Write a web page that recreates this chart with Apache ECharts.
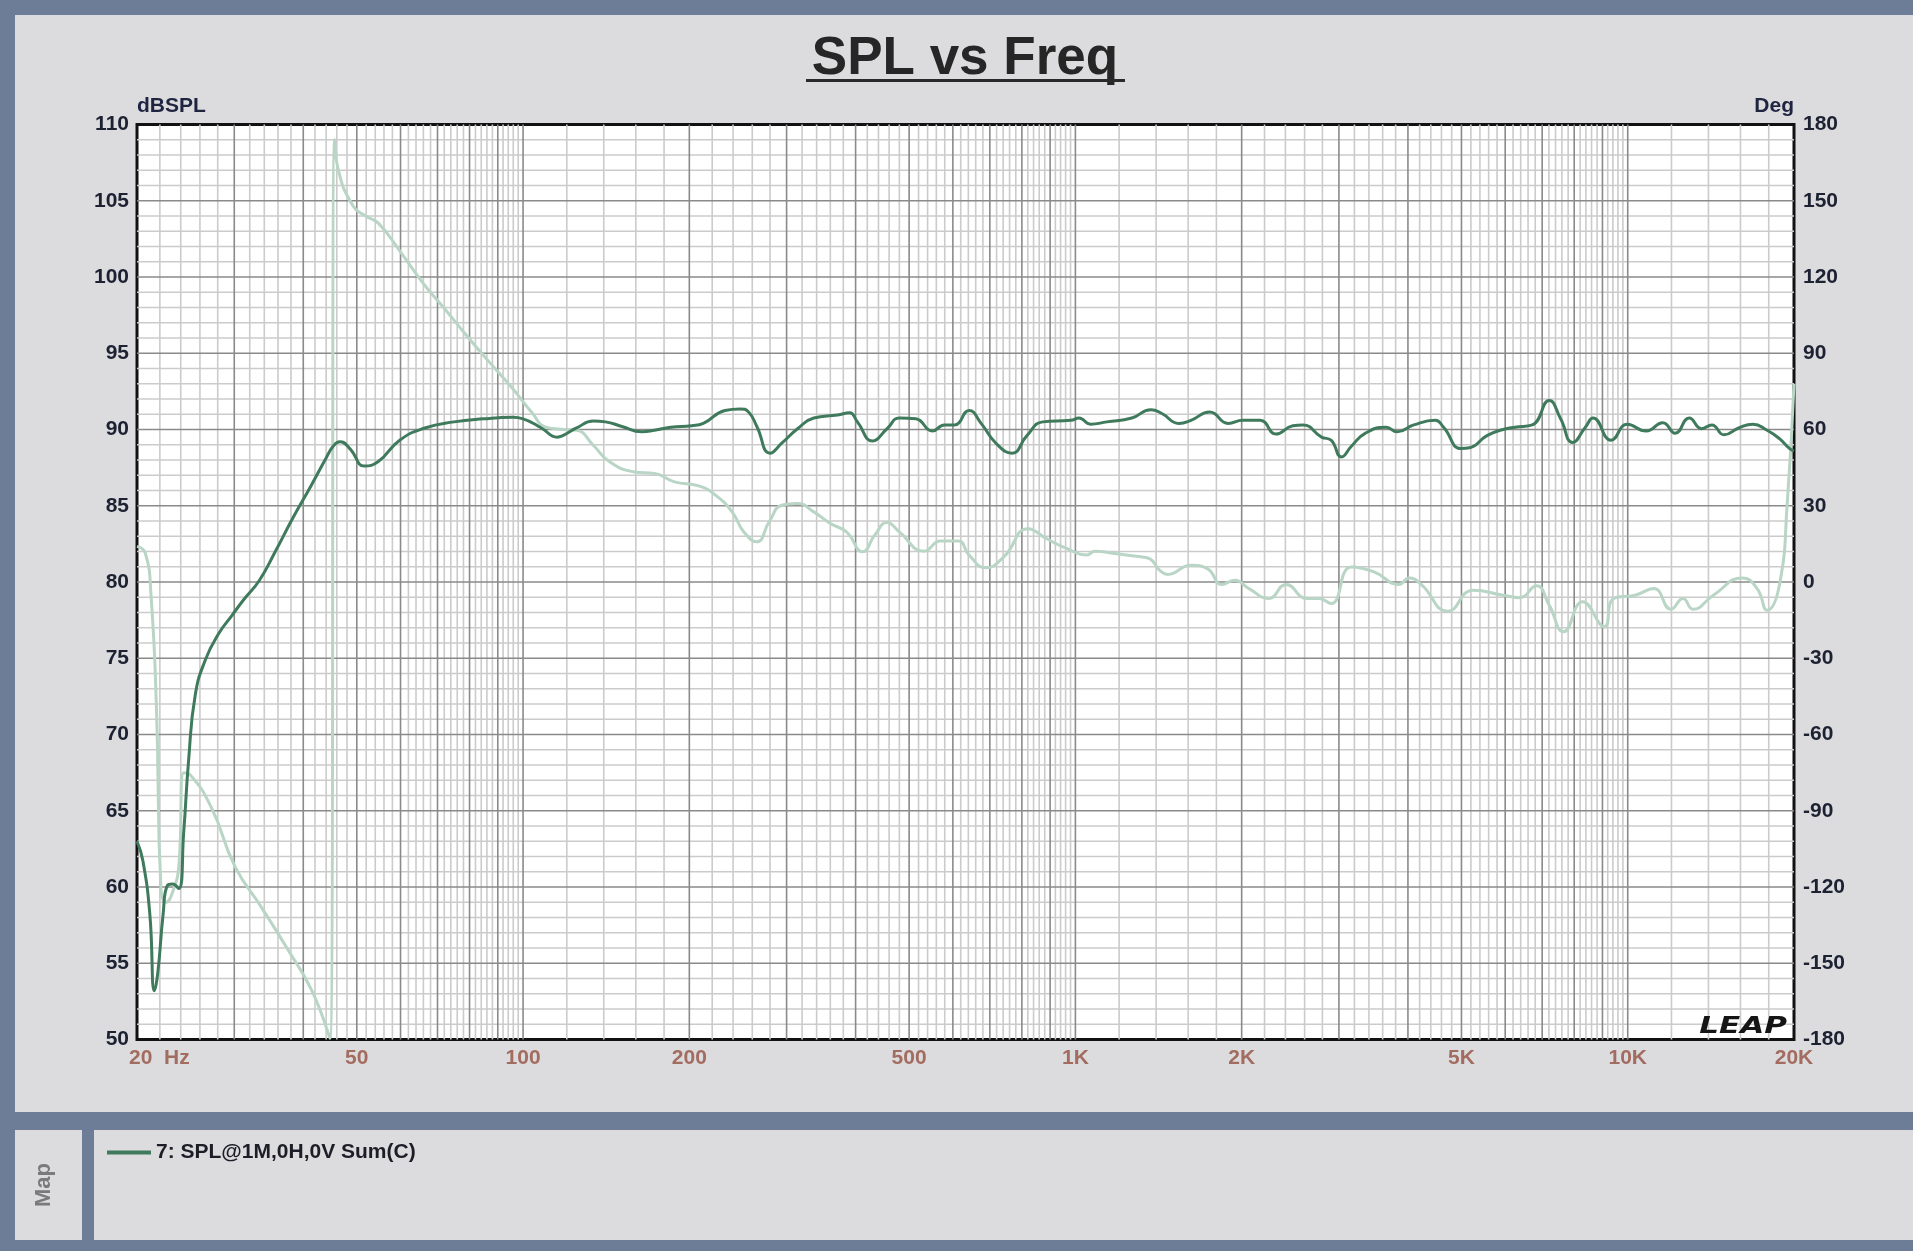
<!DOCTYPE html>
<html>
<head>
<meta charset="utf-8">
<script src="https://cdn.jsdelivr.net/npm/echarts@6/dist/echarts.min.js"></script>
<style>
  body { margin: 0; width: 1913px; height: 1251px; background: #6e7d97; position: relative; overflow: hidden; }
  .panel { position: absolute; background: #dcdcde; }
  #chart { position: absolute; left: 0; top: 0; width: 1913px; height: 1251px; }
</style>
</head>
<body>
<div class="panel" style="left:15px;top:15px;width:1898px;height:1097px"></div>
<div class="panel" style="left:15px;top:1130px;width:67px;height:110px"></div>
<div class="panel" style="left:94px;top:1130px;width:1819px;height:110px"></div>
<div id="chart"></div>
<script>
// SPL magnitude (Hz, dB)
var splData = [
  [20, 63.0], [20.5, 61.7], [21.1, 58.2], [21.5, 53.2], [21.8, 54.3], [22.3, 58.2], [22.7, 60.1],
  [23.2, 60.2], [23.8, 59.9], [24.3, 63.6], [24.8, 68.3], [25.5, 72.6], [26.6, 74.9], [28.1, 76.6],
  [29.7, 77.8], [31.3, 78.9], [33.3, 80.1], [35.6, 82.0], [38.3, 84.2], [41.3, 86.3], [43.8, 88.0],
  [45.3, 88.9], [46.6, 89.2], [48.7, 88.7], [51.6, 87.6], [54.7, 87.9], [59.8, 89.3], [66.4, 90.1],
  [75, 90.5], [84.8, 90.7], [95.8, 90.8], [100, 90.7], [107.9, 90.1], [115.3, 89.5], [118, 89.6],
  [125, 90.1], [134, 90.55], [141, 90.5], [151, 90.2], [164, 89.85], [173, 89.95], [185, 90.15],
  [202, 90.25], [212, 90.4], [232, 91.25], [247, 91.35], [256, 91.15], [265, 90.2], [280, 88.45],
  [294, 89.1], [314, 90.05], [336, 90.75], [371, 90.95], [390, 91.1], [403, 90.5], [429, 89.25],
  [456, 90.05], [480, 90.75], [514, 90.7], [551, 89.9], [579, 90.3], [604, 90.3], [642, 91.25],
  [675, 90.4], [718, 89.1], [768, 88.45], [817, 89.6], [873, 90.5], [981, 90.6], [1015, 90.75],
  [1065, 90.35], [1140, 90.5], [1265, 90.75], [1370, 91.3], [1434, 91.05], [1539, 90.4], [1619, 90.6],
  [1750, 91.15], [1891, 90.4], [2010, 90.6], [2160, 90.6], [2308, 89.7], [2475, 90.25], [2582, 90.3],
  [2790, 89.5], [2903, 89.3], [3032, 88.2], [3160, 88.9], [3346, 89.75], [3654, 90.15], [3823, 89.85],
  [4099, 90.3], [4479, 90.6], [4641, 90.15], [4987, 88.75], [5174, 88.8], [5561, 89.6], [5948, 90.0],
  [6254, 90.15], [6716, 90.3], [7208, 91.9], [7559, 90.7], [7947, 89.15], [8382, 90.15], [8651, 90.75],
  [9329, 89.3], [9983, 90.35], [10799, 89.9], [11575, 90.45], [12186, 89.75], [12921, 90.75],
  [13608, 90.05], [14199, 90.3], [14940, 89.65], [15880, 90.1], [16850, 90.35], [17880, 89.95],
  [18820, 89.4], [19640, 88.75], [20000, 88.6]
];

// phase (Hz, degrees)
var phaseData = [
  [20, 14], [20.7, 11.4], [21.2, -5], [21.7, -51], [22.1, -121], [22.6, -126], [23.2, -122],
  [23.8, -112], [24.3, -75], [25.0, -76], [27.3, -89], [30.1, -112], [33.6, -128], [37.6, -145],
  [41.5, -161], [44.7, -179.5], [45.6, 174], [46.2, 163], [49.2, 148], [51.9, 144], [54.8, 141],
  [60.2, 129.4], [65.9, 117.6], [72.1, 107.5], [79, 97], [86.5, 87], [95, 77], [104, 66.4],
  [109.6, 61], [117, 60.1], [125, 59.7], [134, 53.8], [143, 47.5], [159, 43.3], [173, 42.7],
  [188, 39.4], [208, 37.8], [223, 34.2], [239, 27.6], [251, 19.7], [265, 15.8], [279, 23.7],
  [294, 30.2], [314, 30.9], [336, 27.6], [360, 23], [385, 19.7], [412, 11.9], [433, 18.4],
  [456, 23.4], [480, 19.7], [532, 12.1], [570, 16.1], [614, 16.1], [642, 10.6], [688, 5.6],
  [742, 9.9], [821, 21], [886, 17.1], [964, 13.2], [1049, 10.6], [1085, 12.1], [1178, 11.2],
  [1313, 9.9], [1362, 9.2], [1423, 4.5], [1468, 3.0], [1619, 6.6], [1733, 5.3], [1842, -1],
  [1941, 0.7], [2062, -2.6], [2237, -6.5], [2407, -1], [2625, -6.5], [2762, -6.5], [2903, -8.5],
  [3160, 5.9], [3473, 4.0], [3853, -1], [4017, 1.6], [4231, -1], [4719, -11.5], [5255, -3.2],
  [5948, -5.2], [6374, -6.2], [6834, -1.5], [7208, -9.1], [7652, -19.6], [8288, -7.8], [9071, -17.6],
  [9432, -6.5], [10316, -5.2], [11148, -2.6], [11973, -10.7], [12592, -6.5], [13127, -10.7],
  [14290, -5.2], [16115, 1.6], [17150, -2.6], [17880, -11.1], [18820, -1.2], [19450, 31.5], [20000, 78]
];

var freqTicks = [20, 50, 100, 200, 500, 1000, 2000, 5000, 10000, 20000];
var freqTickLabels = ['20  Hz', '50', '100', '200', '500', '1K', '2K', '5K', '10K', '20K'];
var splName = '7: SPL@1M,0H,0V Sum(C)';

var FONT = '"Liberation Sans", Arial, sans-serif';

// LEAP-style grid: each k..k+1 step of a decade split in 5, plus 1 dB rows
var minorGrid = [], majorGrid = [];
[10, 100, 1000, 10000].forEach(function (d) {
  for (var k = 1; k <= 9; k++) {
    for (var s = 0; s < 5; s++) {
      var f = (k + s / 5) * d;
      if (f <= 20 || f >= 20000) continue;
      (s === 0 ? majorGrid : minorGrid).push([f, 80, 0]);
    }
  }
});
for (var db = 51; db < 110; db++) {
  (db % 5 === 0 ? majorGrid : minorGrid).push([1000, db, 1]);
}

function gridRenderer(color, width) {
  return function (params, api) {
    var a, b;
    if (api.value(2) === 0) {
      a = api.coord([api.value(0), 110]);
      b = api.coord([api.value(0), 50]);
    } else {
      a = api.coord([20, api.value(1)]);
      b = api.coord([20000, api.value(1)]);
    }
    return {
      type: 'line',
      shape: { x1: a[0], y1: a[1], x2: b[0], y2: b[1] },
      style: { stroke: color, lineWidth: width }
    };
  };
}

var chart = echarts.init(document.getElementById('chart'));
var option = {
  animation: false,
  backgroundColor: 'transparent',
  graphic: [
    { type: 'text', x: 965, y: 59.5, style: { text: 'SPL vs Freq', font: 'bold 53px ' + FONT, fill: '#262626', align: 'center', verticalAlign: 'middle' } },
    { type: 'rect', shape: { x: 806, y: 79, width: 319, height: 3 }, style: { fill: '#2a2a2a' } },
    { type: 'text', x: 1787, y: 1027, scaleX: 1.35, z: 10, style: { text: 'LEAP', font: 'italic bold 23px "DejaVu Sans", sans-serif', fill: '#151515', align: 'right', verticalAlign: 'middle' } },
    { type: 'text', x: 44, y: 1185, rotation: Math.PI / 2, style: { text: 'Map', font: 'bold 22px ' + FONT, fill: '#7a7a7a', align: 'center', verticalAlign: 'middle' } }
  ],
  legend: {
    data: [splName],
    left: 102,
    top: 1137,
    icon: 'rect',
    itemWidth: 44,
    itemHeight: 4,
    itemGap: 10,
    textStyle: { fontFamily: FONT, fontWeight: 'bold', fontSize: 21, color: '#1d1d28' }
  },
  grid: {
    left: 137, top: 124.5, right: 119, bottom: 211.5,
    show: true, backgroundColor: '#ffffff', borderColor: '#111111', borderWidth: 3
  },
  xAxis: {
    type: 'log', min: 20, max: 20000,
    axisLine: { show: false }, axisTick: { show: false },
    axisLabel: { show: false }, splitLine: { show: false }
  },
  yAxis: [
    {
      type: 'value', min: 50, max: 110, interval: 5,
      name: 'dBSPL', nameLocation: 'end', nameGap: 8,
      nameTextStyle: { align: 'left', verticalAlign: 'bottom', fontFamily: FONT, fontWeight: 'bold', fontSize: 21, color: '#1f2540' },
      axisLine: { show: false }, axisTick: { show: false }, splitLine: { show: false },
      axisLabel: { margin: 8, fontFamily: FONT, fontWeight: 'bold', fontSize: 21, color: '#1c2232' }
    },
    {
      type: 'value', min: -180, max: 180, interval: 30, position: 'right',
      name: 'Deg', nameLocation: 'end', nameGap: 8,
      nameTextStyle: { align: 'right', verticalAlign: 'bottom', fontFamily: FONT, fontWeight: 'bold', fontSize: 21, color: '#1f2540' },
      axisLine: { show: false }, axisTick: { show: false }, splitLine: { show: false },
      axisLabel: { margin: 9, fontFamily: FONT, fontWeight: 'bold', fontSize: 21, color: '#1c2232' }
    }
  ],
  series: [
    {
      type: 'custom', name: 'minorGrid', silent: true, z: 1,
      data: minorGrid, encode: { x: 0, y: 1 },
      renderItem: gridRenderer('#cbcbcb', 1.6)
    },
    {
      type: 'custom', name: 'majorGrid', silent: true, z: 1,
      data: majorGrid, encode: { x: 0, y: 1 },
      renderItem: gridRenderer('#8a8a8a', 1.6)
    },
    {
      type: 'line', name: 'Phase', yAxisIndex: 1, z: 3,
      data: phaseData, showSymbol: false, smooth: 0.5,
      lineStyle: { color: '#b9d5c6', width: 3 }, itemStyle: { color: '#b9d5c6' }
    },
    {
      type: 'line', name: splName, yAxisIndex: 0, z: 4,
      data: splData, showSymbol: false, smooth: 0.5,
      lineStyle: { color: '#3e7a5b', width: 3 }, itemStyle: { color: '#3e7a5b' }
    },
    {
      type: 'scatter', name: 'freqLabels', yAxisIndex: 0, z: 5, silent: true, clip: false,
      symbolSize: 0,
      data: freqTicks.map(function (f, i) {
        var item = { value: [f, 50] };
        if (i === 0) item.label = { align: 'left', offset: [-8, 0] };
        return item;
      }),
      label: {
        show: true, position: 'bottom', distance: 8,
        fontFamily: FONT, fontWeight: 'bold', fontSize: 21, color: '#955040',
        formatter: function (p) { return freqTickLabels[p.dataIndex]; }
      }
    }
  ]
};
chart.setOption(option);
</script>
</body>
</html>
